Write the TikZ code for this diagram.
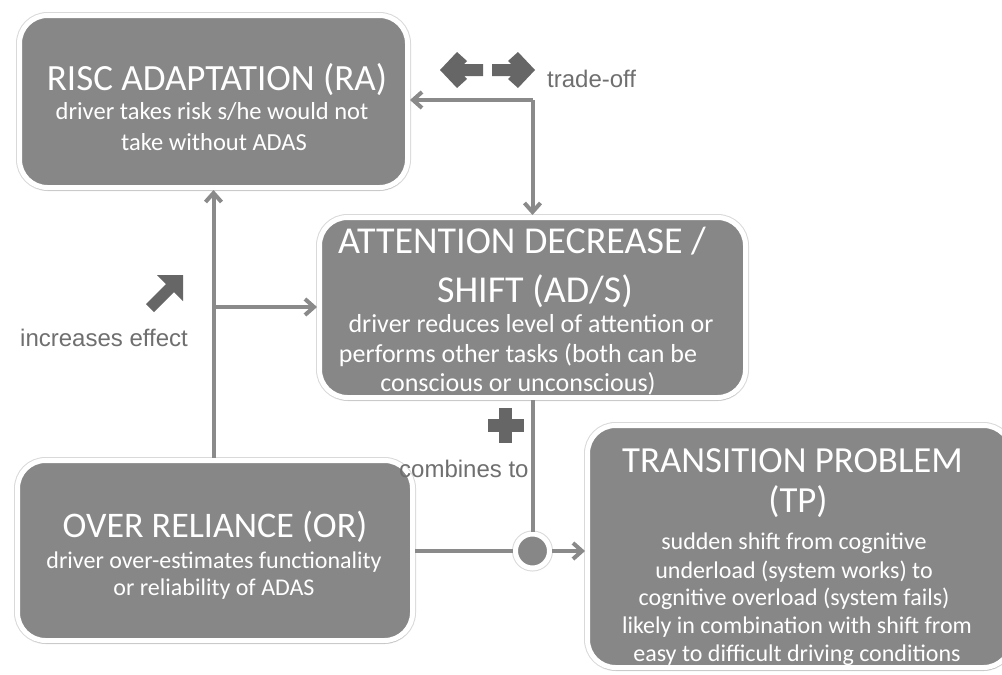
\documentclass[tikz,border=0pt]{standalone}
\usepackage{fontspec}
\usetikzlibrary{arrows.meta,shadows}
\newfontfamily\boxfont{Carlito}
\newfontfamily\labfont{Liberation Sans}
\newcommand\myfs[1]{\fontsize{#1}{#1}\selectfont}
\definecolor{boxgray}{HTML}{878787}
\definecolor{linegray}{HTML}{8A8A8A}
\definecolor{icongray}{HTML}{666666}
\definecolor{labgray}{HTML}{6F6F6F}
\begin{document}
\begin{tikzpicture}[x=1pt,y=1pt,
  box/.style={rounded corners=28pt, fill=boxgray, draw=white, line width=5pt,
    inner sep=0pt, outer sep=2.5pt,
    preaction={draw=black!15, line width=7pt},
    drop shadow={shadow xshift=0.5pt, shadow yshift=-3pt, fill=black, opacity=0.15}},
  junction/.style={circle, fill=boxgray, draw=white, line width=5pt, inner sep=0pt,
    outer sep=2.5pt, minimum size=34pt, preaction={draw=black!15, line width=7pt}},
  ttl/.style={text=white, anchor=base, inner sep=0pt, font=\boxfont},
  lab/.style={text=labgray, anchor=base west, inner sep=0pt, font=\labfont\myfs{24}},
  conn/.style={draw=linegray, line width=4pt},
  tip/.style={-{Straight Barb[length=9pt,width=16pt]}},
  icon/.style={fill=icongray, draw=none}
]
\clip (0,0) rectangle (1002,-675);
\fill[white] (0,0) rectangle (1002,-675);

% boxes
\node[box, minimum width=388pt, minimum height=172pt] (ra) at (213.5,-101.5) {};
\node[box, minimum width=426pt, minimum height=180pt] (ads) at (532.5,-307.5) {};
\node[box, minimum width=395pt, minimum height=180pt] (or) at (215,-550.5) {};
\node[box, minimum width=424pt, minimum height=242pt] (tp) at (799.5,-546.5) {};

% RA text
\node[ttl, font=\boxfont\myfs{37}] (ra1) at (217,-90) {RISC ADAPTATION (RA)};
\node[ttl, font=\boxfont\myfs{24.5}] (ra2) at (212,-119) {driver takes risk s/he would not};
\node[ttl, font=\boxfont\myfs{24.5}] (ra3) at (214,-150) {take without ADAS};

% AD/S text
\node[ttl, font=\boxfont\myfs{38}] (ads1) at (522,-253) {ATTENTION DECREASE /};
\node[ttl, font=\boxfont\myfs{38}] (ads2) at (535,-302) {SHIFT (AD/S)};
\node[ttl, font=\boxfont\myfs{26}] (ads3) at (531,-332) {driver reduces level of attention or};
\node[ttl, font=\boxfont\myfs{26}] (ads4) at (518,-362) {performs other tasks (both can be};
\node[ttl, font=\boxfont\myfs{26}] (ads5) at (518,-391) {conscious or unconscious)};

% OR text
\node[ttl, font=\boxfont\myfs{36}] (or1) at (215,-537) {OVER RELIANCE (OR)};
\node[ttl, font=\boxfont\myfs{24}] (or2) at (214,-568) {driver over-estimates functionality};
\node[ttl, font=\boxfont\myfs{24}] (or3) at (214,-595) {or reliability of ADAS};

% TP text
\node[ttl, font=\boxfont\myfs{36.8}] (tp1) at (792.5,-472) {TRANSITION PROBLEM};
\node[ttl, font=\boxfont\myfs{36.8}] (tp2) at (798,-512) {(TP)};
\node[ttl, font=\boxfont\myfs{24}] (tp3) at (794,-549) {sudden shift from cognitive};
\node[ttl, font=\boxfont\myfs{24}] (tp4) at (794,-578) {underload (system works) to};
\node[ttl, font=\boxfont\myfs{24}] (tp5) at (794,-605) {cognitive overload (system fails)};
\node[ttl, font=\boxfont\myfs{24}] (tp6) at (797,-633) {likely in combination with shift from};
\node[ttl, font=\boxfont\myfs{24}] (tp7) at (797,-661) {easy to difficult driving conditions};

% junction
\node[junction] (jn) at (532.5,-551) {};

% connectors
\coordinate (br) at (213.5,-307);
\coordinate (tc) at (532.5,-100);
\draw[conn, tip] (or.north -| ra.south) -- (ra.south);
\draw[conn, tip] (br) -- (br -| ads.west);
\draw[conn, tip] (tc) -- (ads.north);
\draw[conn, tip] (tc) -- (tc -| ra.east);
\draw[conn] (ads.south) -- (jn.north);
\draw[conn] (or.east |- jn.west) -- (jn.west);
\draw[conn, tip] (jn.east) -- (jn -| tp.west);

% labels
\node[lab] (l1) at (547,-87) {trade-off};
\node[lab] (l2) at (20,-346) {increases effect};
\node[lab] (l3) at (399,-477) {combines to};

% icons
\path[icon] (440,-70) -- (457,-52) -- (467,-61) -- (464,-64) -- (483,-64) -- (483,-76)
  -- (464,-76) -- (467,-79) -- (457,-88) -- cycle;
\path[icon] (535,-70) -- (518,-52) -- (508,-61) -- (511,-64) -- (492,-64) -- (492,-76)
  -- (511,-76) -- (508,-79) -- (518,-88) -- cycle;
\path[icon] (157,-275) -- (183,-275) -- (183,-301) -- (174,-292) -- (154,-312)
  -- (146,-304) -- (166,-284) -- cycle;
\path[icon] (499,-408) rectangle (512,-443);
\path[icon] (488,-419) rectangle (524,-432);
\end{tikzpicture}
\end{document}
